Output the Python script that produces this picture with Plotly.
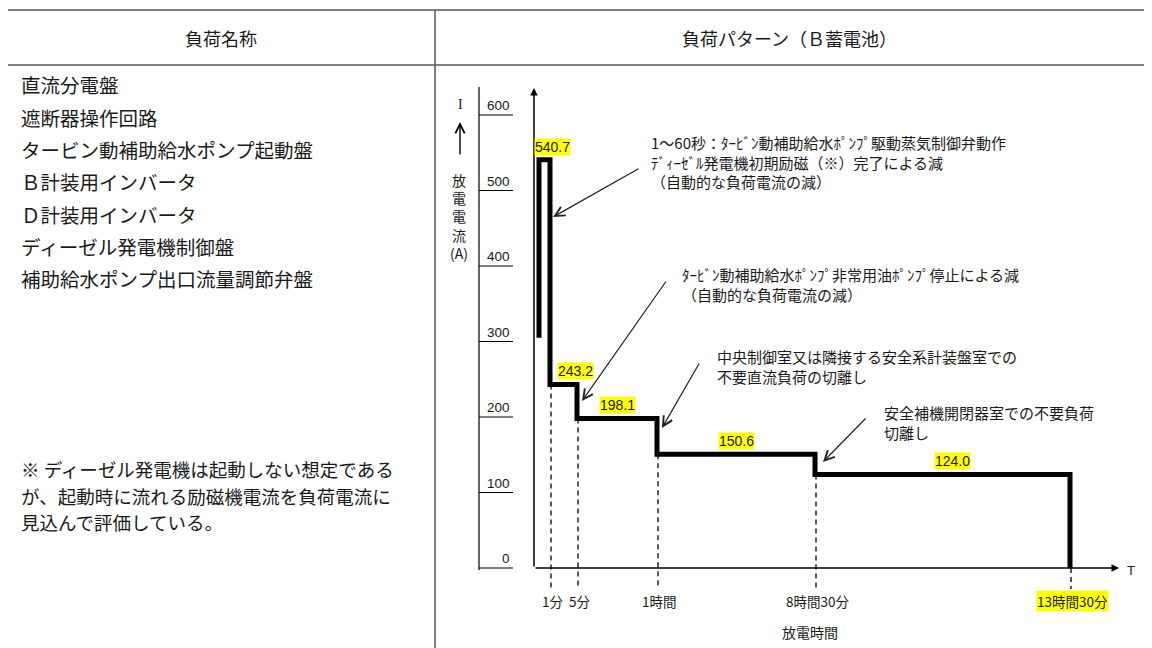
import plotly.graph_objects as go

# ---------------- data ----------------
header_left = "負荷名称"
header_right = "負荷パターン（Ｂ蓄電池）"
load_names = [
    "直流分電盤",
    "遮断器操作回路",
    "タービン動補助給水ポンプ起動盤",
    "Ｂ計装用インバータ",
    "Ｄ計装用インバータ",
    "ディーゼル発電機制御盤",
    "補助給水ポンプ出口流量調節弁盤",
]
note_lines = [
    "※ ディーゼル発電機は起動しない想定である",
    "が、起動時に流れる励磁機電流を負荷電流に",
    "見込んで評価している。",
]

time_labels = ["1分", "5分", "1時間", "8時間30分", "13時間30分"]
time_x = [16, 43, 123, 281, 536]          # schematic (non-proportional) time positions
start_x = 5
start_current = 305
currents = [540.7, 243.2, 198.1, 150.6, 124.0]
current_labels = ["540.7", "243.2", "198.1", "150.6", "124.0"]
ruler_ticks = [0, 100, 200, 300, 400, 500, 600]

callouts = [
    "1～60秒：ﾀｰﾋﾞﾝ動補助給水ﾎﾟﾝﾌﾟ駆動蒸気制御弁動作<br>ﾃﾞｨｰｾﾞﾙ発電機初期励磁（※）完了による減<br>（自動的な負荷電流の減）",
    "ﾀｰﾋﾞﾝ動補助給水ﾎﾟﾝﾌﾟ非常用油ﾎﾟﾝﾌﾟ停止による減<br>（自動的な負荷電流の減）",
    "中央制御室又は隣接する安全系計装盤室での<br>不要直流負荷の切離し",
    "安全補機開閉器室での不要負荷<br>切離し",
]

# ---------------- layout helpers ----------------
W, H = 1152, 648
OFF = 8                        # page body margin
X0, Y0, S = 534, 568, 0.755    # origin (window px) and px per ampere


def px(x):
    return (x - OFF) / W


def py(y):
    return 1 - (y - OFF) / H


def amp(ypix):
    return (Y0 - ypix) / S


JP = "Noto Sans CJK JP"
TXT = "#1a1a1a"
NUM = "Liberation Sans Narrow, Liberation Sans, sans-serif"

fig = go.Figure()

# step load pattern
fig.add_trace(go.Scatter(
    x=[start_x, start_x] + time_x,
    y=[start_current] + currents + [0],
    mode="lines", line=dict(color="black", width=5, shape="hv"),
    hoverinfo="skip", showlegend=False,
))

shapes = []
ann = []

# table borders
border = dict(color="#555555", width=1.5)
shapes += [
    dict(type="line", xref="paper", yref="paper", x0=px(7), x1=px(1148), y0=py(10), y1=py(10), line=border),
    dict(type="line", xref="paper", yref="paper", x0=px(7), x1=px(1148), y0=py(65), y1=py(65), line=border),
    dict(type="line", xref="paper", yref="paper", x0=px(7), x1=px(7), y0=py(10), y1=0, line=border),
    dict(type="line", xref="paper", yref="paper", x0=px(435), x1=px(435), y0=py(10), y1=0, line=border),
    dict(type="line", xref="paper", yref="paper", x0=px(1148), x1=px(1148), y0=py(10), y1=0,
         line=dict(color="#bbbbbb", width=1)),
]

# headers
ann.append(dict(text=header_left, x=px(221), y=py(38), xref="paper", yref="paper",
                xanchor="center", yanchor="middle",
                showarrow=False, font=dict(family=JP, size=18, color=TXT)))
ann.append(dict(text=header_right, x=px(789), y=py(38), xref="paper", yref="paper",
                xanchor="center", yanchor="middle",
                showarrow=False, font=dict(family=JP, size=18, color=TXT)))

# left column load names
for i, name in enumerate(load_names):
    ann.append(dict(text=name, x=px(19), y=py(85 + i * 32.3), xref="paper", yref="paper",
                    xanchor="left", yanchor="middle", showarrow=False,
                    font=dict(family=JP, size=19.5, color=TXT)))

for i, line in enumerate(note_lines):
    ann.append(dict(text=line, x=px(19), y=py(469 + i * 26.7), xref="paper", yref="paper",
                    xanchor="left", yanchor="middle", showarrow=False,
                    font=dict(family=JP, size=18.5, color=TXT)))

# ruler scale on the left of the chart
rx0, rx1 = 479 - X0, 513 - X0
shapes.append(dict(type="line", xref="x", yref="y", x0=rx0, x1=rx0, y0=amp(570), y1=amp(87),
                   line=dict(color="black", width=1.2)))
for t in ruler_ticks:
    shapes.append(dict(type="line", xref="x", yref="y", x0=rx0, x1=rx1, y0=t, y1=t,
                       line=dict(color="black", width=1.2)))
    ann.append(dict(text=str(t), x=rx1 - 1, y=t, xref="x", yref="y", xanchor="right",
                    yanchor="bottom", showarrow=False,
                    font=dict(family=NUM, size=13.5, color=TXT)))

# y label "I ↑ 放電電流(A)"
ann.append(dict(text="I", x=460 - X0, y=amp(104), xref="x", yref="y", showarrow=False,
                font=dict(family="Liberation Serif", size=14, color=TXT)))
ann.append(dict(text="", x=460 - X0, y=amp(122), ax=460 - X0, ay=amp(156), xref="x", yref="y",
                axref="x", ayref="y", showarrow=True, arrowhead=5, arrowsize=1.3, arrowwidth=1.4,
                arrowcolor="black"))
ann.append(dict(text="放<br>電<br>電<br>流<br>(A)", x=459 - X0, y=amp(216), xref="x", yref="y",
                showarrow=False, align="center",
                font=dict(family=JP, size=14, color=TXT)))

# axes with arrows
ann.append(dict(text="", x=0, y=amp(88), ax=0, ay=0, xref="x", yref="y", axref="x", ayref="y",
                showarrow=True, arrowhead=2, arrowsize=1, arrowwidth=1.5, arrowcolor="black"))
ann.append(dict(text="", x=1119 - X0, y=0, ax=0, ay=0, xref="x", yref="y", axref="x", ayref="y",
                showarrow=True, arrowhead=2, arrowsize=1, arrowwidth=1.5, arrowcolor="black"))
ann.append(dict(text="T", x=px(1137), y=py(580), xref="paper", yref="paper", showarrow=False,
                font=dict(family="Liberation Sans", size=13, color=TXT)))
ann.append(dict(text="放電時間", x=px(810), y=py(632), xref="paper", yref="paper", showarrow=False,
                xanchor="center", yanchor="middle",
                font=dict(family=JP, size=14, color=TXT)))

# dashed time markers and tick labels
levels_after = currents[1:] + [0]
for i, (tx, lbl) in enumerate(zip(time_x, time_labels)):
    shapes.append(dict(type="line", xref="x", yref="y", x0=tx + 1, x1=tx + 1,
                       y0=levels_after[i], y1=amp(589),
                       line=dict(color="black", width=1.3, dash="5px,4px")))
    ann.append(dict(text=lbl, x=tx + 2, y=amp(601), xref="x", yref="y", showarrow=False,
                    yanchor="middle",
                    bgcolor="#ffff00" if i == len(time_x) - 1 else None, borderpad=0,
                    font=dict(family=JP, size=13.5, color=TXT)))

# value labels on each step
seg_start = [start_x] + time_x[:-1]
xshift = [8, 12, 0, 0, 10]
for i, (a, b, v, lbl) in enumerate(zip(seg_start, time_x, currents, current_labels)):
    ann.append(dict(text=lbl, x=(a + b) / 2, y=v, xref="x", yref="y", xanchor="center",
                    yanchor="bottom", yshift=4, xshift=xshift[i], showarrow=False,
                    bgcolor="#ffff00", borderpad=0,
                    font=dict(family=NUM, size=14, color=TXT)))

# callout texts and arrows
callout_pos = [(649, 130), (680, 262), (715, 344), (882, 400)]
arrow_tail = [(640, 168), (667, 280), (700, 362), (867, 417)]
arrow_tip = [(553, 217), (582, 401), (662, 428), (823, 462)]
for txt, (tx, ty), (ax_, ay_), (hx, hy) in zip(callouts, callout_pos, arrow_tail, arrow_tip):
    ann.append(dict(text=txt, x=px(tx), y=py(ty), xref="paper", yref="paper", xanchor="left",
                    yanchor="top", align="left", showarrow=False,
                    font=dict(family=JP, size=15, color=TXT)))
    ann.append(dict(text="", x=hx - X0, y=amp(hy), ax=ax_ - X0, ay=amp(ay_), xref="x", yref="y",
                    axref="x", ayref="y", showarrow=True, arrowhead=5, arrowsize=1.6,
                    arrowwidth=1.2, arrowcolor="#222222"))

fig.update_layout(
    width=W, height=H, margin=dict(l=0, r=0, t=0, b=0),
    paper_bgcolor="white", plot_bgcolor="white",
    xaxis=dict(range=[OFF - X0, OFF + W - X0], domain=[0, 1], visible=False, fixedrange=True),
    yaxis=dict(range=[amp(OFF + H), amp(OFF)], domain=[0, 1], visible=False, fixedrange=True),
    shapes=shapes, annotations=ann, showlegend=False,
)

fig.write_html("out.html")
